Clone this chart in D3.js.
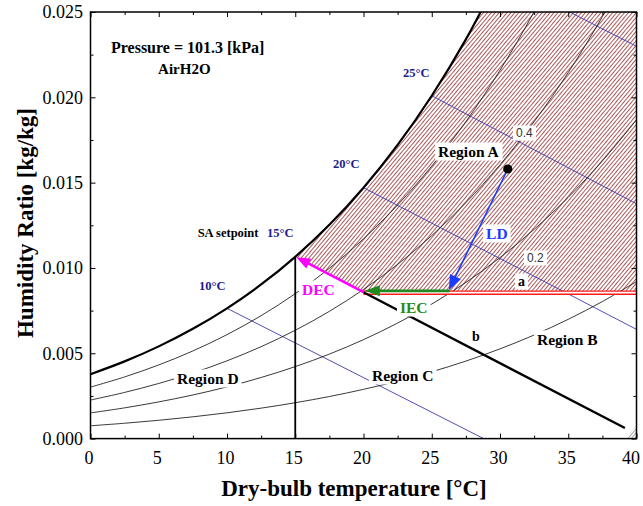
<!DOCTYPE html>
<html><head><meta charset="utf-8">
<script src="https://cdn.jsdelivr.net/npm/d3@7"></script>
<style>body{margin:0;background:#fff} svg{display:block}</style>
</head><body><svg id="c" width="643" height="506"></svg>
<script>
// ---------- data ----------
const temps = [0,2.5,5,7.5,10,12.5,15,17.5,20,22.5,25,27.5,30,32.5,35,37.5,40];
const satW  = [0.003776,0.004525,0.005405,0.006433,0.007634,0.009031,0.010653,0.012530,0.014703,0.017209,0.020091,0.023394,0.027217,null,null,null,null];
const rh80W = [0.003017,0.003615,0.004316,0.005136,0.006092,0.007204,0.008493,0.009983,0.011707,0.013691,0.015970,0.018576,0.021584,0.025013,0.028937,null,null];
const rh60W = [0.002260,0.002707,0.003231,0.003844,0.004558,0.005387,0.006348,0.007458,0.008739,0.010212,0.011901,0.013828,0.016049,0.018573,0.021453,0.024730,0.028452];
const rh40W = [0.001505,0.001802,0.002151,0.002557,0.003031,0.003581,0.004218,0.004952,0.005799,0.006771,0.007884,0.009151,0.010608,0.012260,0.014140,0.016271,0.018683];
const rh20W = [0.000751,0.000900,0.001073,0.001276,0.001512,0.001785,0.002102,0.002466,0.002886,0.003367,0.003917,0.004542,0.005259,0.006070,0.006990,0.008031,0.009203];

// wet-bulb lines (blue): start / end temperature and humidity ratio
const wbNames = ["10°C","20°C","25°C","30°C"];
const wbT = [[10,28.8],[20,40],[25,40],[35.1,40]];
const wbW = [[0.007634,0],[0.014703,0.0064],[0.020091,0.01376],[0.025,0.02299]];

// process
const supplyT = 15, supplyW = 0.010653;      // SA setpoint on saturation
const mixT = 20, mixW = 0.00858;             // end of IEC / start of DEC
const stateA = [30.57, 0.0158];              // outdoor state (dot)
const ldEnd  = [26.25, 0.0087];              // end of LD process
const iecT = [26.3, 20.1], iecW = 0.00866;   // IEC arrow
const redT = [20, 40], redW = 0.00855;       // line a
const bT = [20, 39.15], bW = [0.00858, 0.00062]; // line b
const cornerT = [39.2, 40, 40], cornerW = [0, 0, 0.0008];

const xTicks = [0,5,10,15,20,25,30,35,40];
const xMinor = [2.5,7.5,12.5,17.5,22.5,27.5,32.5,37.5];
const yTicks = [0,0.005,0.010,0.015,0.020,0.025];
const yMinor = [0.0025,0.0075,0.0125,0.0175,0.0225];

// annotations: [text, T, W, class]
const notes = [
  ["Pressure = 101.3 [kPa]", 1.50, 0.02257, "info"],
  ["AirH2O", 4.95, 0.02137, "info2"],
  ["SA setpoint", 7.85, 0.01181, "small"],
  ["15°C", 12.93, 0.01181, "temp"],
  ["25°C", 22.89, 0.02119, "temp"],
  ["20°C", 17.77, 0.01586, "temp"],
  ["10°C", 7.95, 0.00871, "temp"],
  ["Region A", 25.46, 0.01650, "region"],
  ["LD", 28.98, 0.01170, "ld"],
  ["DEC", 15.49, 0.00842, "dec"],
  ["IEC", 22.67, 0.00736, "iec"],
  ["a", 31.32, 0.00894, "ab"],
  ["b", 27.95, 0.00572, "ab"],
  ["Region B", 32.71, 0.00549, "region"],
  ["Region C", 20.62, 0.00338, "region"],
  ["Region D", 6.34, 0.00320, "region"],
  ["0.4", 31.17, 0.01767, "num"],
  ["0.2", 31.98, 0.01035, "num"]
];

// ---------- drawing ----------
const svg = d3.select("#c");
const L = 90.5, R = 636.5, T = 12, B = 438.6;
const x = d3.scaleLinear().domain([0,40]).range([L,R]);
const y = d3.scaleLinear().domain([0,0.025]).range([B,T]);
const serif = "'Liberation Serif','Times New Roman',serif";

const defs = svg.append("defs");
defs.append("clipPath").attr("id","plot").append("rect")
  .attr("x",L).attr("y",T).attr("width",R-L).attr("height",B-T);

const line = d3.line().defined(d=>d[1]!=null).x(d=>x(d[0])).y(d=>y(d[1])).curve(d3.curveCatmullRom.alpha(0.5));
const pts = arr => temps.map((t,i)=>[t,arr[i]]);

// clip: below saturation curve
const satPts = pts(satW).filter(d=>d[1]!=null);
const lastSat = satPts[satPts.length-1];
defs.append("clipPath").attr("id","underSat").append("path")
  .attr("d", line(satPts) + `L${x(40)},${y(lastSat[1])}L${x(40)},${y(0)}L${x(0)},${y(0)}Z`);
// clip: above DEC/red boundary
defs.append("clipPath").attr("id","aboveProc").append("path")
  .attr("d", `M${x(supplyT)},${y(supplyW)}L${x(mixT)},${y(mixW)}L${x(40)},${y(mixW)}L${x(40)},${y(0.03)}L${x(supplyT)},${y(0.03)}Z`);

// hatch patterns
const hp = defs.append("pattern").attr("id","hatch").attr("patternUnits","userSpaceOnUse")
  .attr("width",3).attr("height",10).attr("patternTransform","rotate(40)");
hp.append("line").attr("x1",0.5).attr("x2",0.5).attr("y1",0).attr("y2",10)
  .attr("stroke","#a04646").attr("stroke-width",0.9);
const gp = defs.append("pattern").attr("id","ghatch").attr("patternUnits","userSpaceOnUse")
  .attr("width",2.5).attr("height",10).attr("patternTransform","rotate(40)");
gp.append("line").attr("x1",0.5).attr("x2",0.5).attr("y1",0).attr("y2",10)
  .attr("stroke","#888").attr("stroke-width",0.8);

svg.append("rect").attr("width",643).attr("height",506).attr("fill","#fff");

const plot = svg.append("g").attr("clip-path","url(#plot)");
plot.append("g").attr("clip-path","url(#underSat)")
  .append("rect").attr("clip-path","url(#aboveProc)")
  .attr("x",x(supplyT)-1).attr("y",T).attr("width",R-x(supplyT)+1).attr("height",B-T)
  .attr("fill","url(#hatch)");

plot.append("path").attr("d", d3.line()(cornerT.map((t,i)=>[x(t),y(cornerW[i])]))+"Z")
  .attr("fill","url(#ghatch)");

// wet-bulb lines
wbT.forEach((tt,i)=>{
  plot.append("line").attr("x1",x(tt[0])).attr("y1",y(wbW[i][0])).attr("x2",x(tt[1])).attr("y2",y(wbW[i][1]))
    .attr("stroke","#3b3bb0").attr("stroke-width",0.9);
});

// RH curves
[rh80W,rh60W,rh40W,rh20W].forEach(a=>{
  plot.append("path").attr("d",line(pts(a))).attr("fill","none").attr("stroke","#222").attr("stroke-width",0.9);
});
plot.append("path").attr("d",line(satPts)).attr("fill","none").attr("stroke","#000").attr("stroke-width",2.2);

// vertical supply line
plot.append("line").attr("x1",x(supplyT)).attr("x2",x(supplyT)).attr("y1",y(0)).attr("y2",y(supplyW))
  .attr("stroke","#000").attr("stroke-width",1.8);

// red line a
plot.append("line").attr("x1",x(redT[0])).attr("x2",x(redT[1])).attr("y1",y(redW)).attr("y2",y(redW))
  .attr("stroke","#ff1a1a").attr("stroke-width",4.4);
plot.append("line").attr("x1",x(redT[0])).attr("x2",x(redT[1])).attr("y1",y(redW)).attr("y2",y(redW))
  .attr("stroke","#fff").attr("stroke-width",1.8);

// line b
plot.append("line").attr("x1",x(bT[0])).attr("x2",x(bT[1])).attr("y1",y(bW[0])).attr("y2",y(bW[1]))
  .attr("stroke","#000").attr("stroke-width",2.4);

function arrow(p1, p2, color, width, len, half){
  const x1=x(p1[0]), y1=y(p1[1]), x2=x(p2[0]), y2=y(p2[1]);
  const dx=x2-x1, dy=y2-y1, d=Math.hypot(dx,dy), ux=dx/d, uy=dy/d;
  const bx=x2-ux*len, by=y2-uy*len;
  svg.append("line").attr("x1",x1).attr("y1",y1).attr("x2",x2-ux*len*0.6).attr("y2",y2-uy*len*0.6)
    .attr("stroke",color).attr("stroke-width",width);
  svg.append("path").attr("d",`M${x2},${y2}L${bx-uy*half},${by+ux*half}L${bx+uy*half},${by-ux*half}Z`)
    .attr("fill",color);
}
arrow([mixT,mixW],[supplyT+0.08,supplyW-0.00002],"#ff00ff",2.6,14,5.5);
arrow([iecT[0],iecW],[iecT[1],iecW],"#1f8a1f",2.6,15,5.5);
arrow(stateA, ldEnd, "#1a3cff", 1.6, 15, 6);
svg.append("circle").attr("cx",x(stateA[0])).attr("cy",y(stateA[1])).attr("r",4.6).attr("fill","#000");

// annotations
const styles = {
  info:{size:16,fill:"#000",weight:"bold",fam:serif,box:false},
  info2:{size:15,fill:"#000",weight:"bold",fam:serif,box:false},
  small:{size:12.5,fill:"#000",weight:"bold",fam:serif,box:false},
  temp:{size:12.5,fill:"#1c1c8c",weight:"bold",fam:serif,box:false},
  region:{size:15.5,fill:"#000",weight:"bold",fam:serif,box:true},
  ld:{size:15.5,fill:"#1a3cff",weight:"bold",fam:serif,box:true},
  dec:{size:15.5,fill:"#ff00ff",weight:"bold",fam:serif,box:true},
  iec:{size:15.5,fill:"#1f8a1f",weight:"bold",fam:serif,box:true},
  ab:{size:14,fill:"#000",weight:"bold",fam:serif,box:true},
  num:{size:12,fill:"#333",weight:"normal",fam:"'Liberation Sans',Arial,sans-serif",box:true}
};
notes.forEach(n=>{
  const s = styles[n[3]];
  const g = svg.append("g");
  const t = g.append("text").attr("x",x(n[1])).attr("y",y(n[2])).text(n[0])
    .attr("font-family",s.fam).attr("font-size",s.size).attr("font-weight",s.weight).attr("fill",s.fill);
  if (s.box){
    const bb = t.node().getBBox();
    g.insert("rect","text").attr("x",bb.x-3).attr("y",bb.y-0.5).attr("width",bb.width+6).attr("height",bb.height+1).attr("fill","#fff");
  }
});

// frame & axes
svg.append("rect").attr("x",L).attr("y",T).attr("width",R-L).attr("height",B-T)
  .attr("fill","none").attr("stroke","#000").attr("stroke-width",1.5);

function ax(gen, tr, vals, size, fmt, pad){
  const a = gen.tickValues(vals).tickSize(-size).tickPadding(pad).tickFormat(fmt);
  const g = svg.append("g").attr("transform",tr).call(a);
  g.select(".domain").remove();
  g.selectAll("line").attr("stroke","#000").attr("stroke-width",1);
  g.selectAll("text").attr("font-family",serif).attr("font-size",18).attr("fill","#000");
  return g;
}
const xb = ax(d3.axisBottom(x), `translate(0,${B})`, xTicks, 5, d3.format("d"), 13);
xb.selectAll("text").attr("dx", d => d === 40 ? -6 : -2);
ax(d3.axisBottom(x), `translate(0,${B})`, xMinor, 3, ()=>"", 13);
ax(d3.axisTop(x), `translate(0,${T})`, xTicks, 5, ()=>"", 3);
ax(d3.axisTop(x), `translate(0,${T})`, xMinor, 3, ()=>"", 3);
ax(d3.axisLeft(y), `translate(${L},0)`, yTicks, 5, d3.format(".3f"), 7.5);
ax(d3.axisLeft(y), `translate(${L},0)`, yMinor, 3, ()=>"", 7);
ax(d3.axisRight(y), `translate(${R},0)`, yTicks, 5, ()=>"", 3);
ax(d3.axisRight(y), `translate(${R},0)`, yMinor, 3, ()=>"", 3);

svg.append("text").attr("x",354).attr("y",496).attr("text-anchor","middle")
  .attr("font-family",serif).attr("font-size",23).attr("font-weight","bold").text("Dry-bulb temperature [°C]");
svg.append("text").attr("transform","translate(33,223) rotate(-90)").attr("text-anchor","middle")
  .attr("font-family",serif).attr("font-size",23).attr("font-weight","bold").text("Humidity Ratio [kg/kg]");
</script></body></html>
